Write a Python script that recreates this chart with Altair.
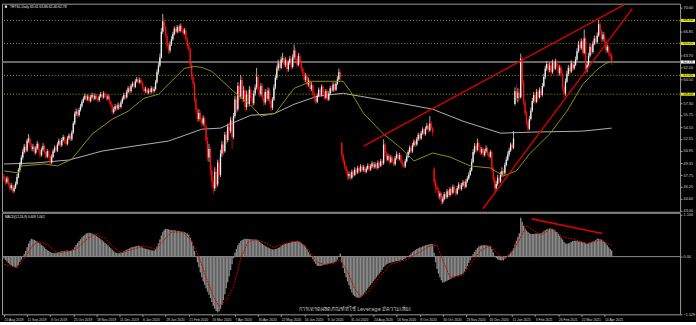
import altair as alt
import pandas as pd
import numpy as np

# ---------------- data ----------------
date_labels = ["20 Aug 2019", "11 Sep 2019", "3 Oct 2019", "25 Oct 2019", "18 Nov 2019",
               "11 Dec 2019", "6 Jan 2020", "29 Jan 2020", "21 Feb 2020", "16 Mar 2020",
               "7 Apr 2020", "30 Apr 2020", "22 May 2020", "16 Jun 2020", "9 Jul 2020",
               "31 Jul 2020", "24 Aug 2020", "16 Sep 2020", "8 Oct 2020", "30 Oct 2020",
               "23 Nov 2020", "16 Dec 2020", "11 Jan 2021", "3 Feb 2021", "26 Feb 2021",
               "22 Mar 2021", "14 Apr 2021"]
date_label_step = 16

closes = [
    47.2, 46.8, 47.3, 46.5, 46.0, 46.4, 45.6, 46.1, 46.6,
    47.5, 48.4, 49.2, 50.1,
    50.8, 51.5, 51.0, 52.3, 52.6,
    51.8, 51.2, 51.5, 50.7, 51.3, 51.9, 51.0, 50.4, 51.1, 51.6, 50.8, 50.2, 50.9, 50.3,
    49.4,
    50.2, 50.9, 51.4, 51.0, 51.8, 52.3, 51.7, 52.4, 52.8, 52.2, 51.9, 52.6, 53.0, 52.5, 53.4,
    54.6, 55.9, 56.2, 55.7, 56.4, 56.9, 57.5,
    57.9, 58.3, 57.8, 58.2, 57.6, 58.1, 58.4, 57.9, 58.3, 58.0, 57.7, 58.2, 58.5, 58.1, 58.6, 58.3, 57.9, 58.2, 57.5, 57.0,
    56.1,
    56.5, 56.9, 56.6, 57.1, 56.8, 57.4,
    57.9, 58.4, 58.1, 58.8, 59.3, 58.9, 59.6, 59.9, 59.5, 60.2, 60.5, 60.1, 60.4, 60.0,
    59.4, 58.9, 59.2, 58.7, 59.0, 58.8, 59.3, 58.9, 59.2,
    60.1, 61.4, 62.3, 63.4,
    66.8, 68.2, 67.4,
    66.2, 64.9, 64.3, 65.1, 65.8,
    66.5, 67.2, 66.8, 67.4, 66.9, 67.6, 67.1, 66.6, 67.0,
    65.8, 64.9, 64.5,
    62.4, 60.8, 59.9,
    57.8, 56.4, 55.2, 56.0, 55.1, 54.6, 55.3, 54.2,
    52.3, 50.1, 51.2, 48.4, 46.9, 46.0,
    48.2, 46.5, 49.4, 47.8, 50.6,
    51.8, 50.9, 53.1, 52.4, 54.2, 53.6, 55.0, 52.8, 55.6,
    57.8, 56.5, 59.6, 58.2, 60.4, 57.9, 59.0, 56.8, 58.5, 57.2, 59.1, 58.0,
    57.3, 58.6, 59.4, 60.8, 59.2,
    58.5, 59.6, 58.0, 57.4, 58.8, 57.9, 59.0, 57.6, 56.7, 57.8,
    59.4, 60.7, 61.9, 62.6, 62.0, 63.1, 63.3,
    62.4, 63.0, 61.8, 62.7, 63.2, 62.1, 63.4,
    64.3, 63.2, 62.4, 63.6, 62.8, 61.9,
    61.2, 60.4, 60.9, 59.8, 60.3, 59.2, 59.7, 58.6,
    57.9, 57.5, 58.3,
    59.1, 58.4, 59.5, 58.7, 58.0, 58.9, 57.8, 58.6, 59.3,
    59.0, 59.8, 59.1, 59.9, 60.5,
    61.4, 60.8,
    50.4, 49.6, 48.9,
    48.3, 47.6, 47.9, 47.4,
    48.2, 47.8, 48.5, 48.1, 48.7, 48.3, 48.9, 48.4, 48.8, 48.2, 48.6, 49.0, 48.5, 48.9, 49.3, 48.8, 49.2, 48.7, 49.4, 49.0, 49.6, 49.3,
    51.8, 50.6,
    49.8, 50.3, 49.5, 50.1, 49.6, 49.2, 50.0, 50.5, 49.9, 50.4, 49.5, 49.1, 48.9, 49.6, 50.2,
    50.8, 51.4, 50.9, 51.7, 52.2, 51.8, 52.5, 53.1, 52.6, 53.3, 53.8, 53.2, 53.9, 54.3, 53.7, 54.6, 54.0, 53.4,
    46.8, 46.2,
    45.8, 44.9, 45.3, 44.2, 44.6,
    45.2, 44.8, 45.6, 45.1, 45.9, 45.4, 46.2, 45.7, 45.3, 46.0, 46.5, 45.9, 46.4, 46.8, 46.2, 46.9, 47.3, 47.8, 48.4,
    49.5, 50.8, 51.6, 51.1, 52.0, 51.4,
    50.7, 51.2, 50.4, 50.9, 51.3, 50.6, 50.2, 50.8,
    48.6, 47.2, 46.0,
    46.6, 47.4, 46.9, 47.8, 48.3, 48.0,
    49.1, 49.8, 50.5, 51.0, 51.8, 51.4, 52.6,
    58.9, 58.0, 58.7, 58.1, 63.2,
    60.1, 57.4, 56.0, 54.8, 53.9, 55.2, 56.3,
    57.6, 58.4, 57.5, 58.8, 58.1, 59.0, 58.4,
    59.6, 60.8, 61.9, 62.5, 61.7,
    62.3, 61.4, 62.7, 61.9, 62.8, 62.2, 61.3, 62.0, 61.2,
    59.4, 58.6, 60.2,
    61.2, 62.0, 61.5, 62.6, 61.9, 62.4, 63.1,
    64.2, 65.1, 64.6, 65.5,
    64.0, 65.9,
    61.8, 62.4,
    63.6, 64.8, 64.1, 65.2,
    65.9, 65.4, 66.3,
    67.8, 66.9,
    65.8, 66.4, 65.5,
    64.3, 64.8,
    63.9, 63.61, 62.78,
]

highs = [
    47.9, 47.5, 47.6, 47.5, 46.8, 46.7, 46.5, 46.4, 46.9,
    47.9, 48.7, 49.5, 50.4,
    51.2, 51.9, 51.8, 52.6, 53.2,
    52.9, 52.0, 51.9, 51.7, 51.6, 52.3, 52.1, 51.2, 51.4, 52.0, 51.8, 51.0, 51.2, 51.1,
    50.5,
    50.5, 51.2, 51.7, 51.6, 52.1, 52.6, 52.5, 52.7, 53.1, 53.0, 52.5, 52.9, 53.3, 53.2, 53.7,
    54.9, 56.2, 56.6, 56.5, 56.7, 57.2, 57.8,
    58.2, 58.6, 58.5, 58.5, 58.4, 58.4, 58.7, 58.6, 58.6, 58.5, 58.2, 58.5, 58.8, 58.7, 58.9, 58.8, 58.5, 58.5, 58.4, 57.7,
    57.2,
    56.8, 57.2, 57.1, 57.4, 57.3, 57.7,
    58.2, 58.7, 58.7, 59.1, 59.6, 59.5, 59.9, 60.2, 60.1, 60.5, 60.8, 60.7, 60.7, 60.6,
    60.2, 59.6, 59.5, 59.4, 59.3, 59.2, 59.6, 59.5, 59.5,
    60.4, 61.8, 62.7, 63.9,
    67.3, 69.2, 68.6,
    67.6, 66.5, 65.2, 65.5, 66.2,
    66.8, 67.5, 67.5, 67.7, 67.6, 67.9, 67.8, 67.3, 67.3,
    67.2, 66.1, 65.3,
    64.7, 62.7, 61.2,
    60.1, 58.1, 56.7, 56.5, 56.3, 55.5, 55.7, 55.5,
    54.4, 52.8, 51.9, 51.5, 49.0, 47.6,
    48.8, 48.6, 49.8, 49.9, 51.1,
    52.3, 52.2, 53.5, 53.6, 54.6, 54.8, 55.5, 55.4, 56.0,
    58.3, 58.2, 60.1, 60.0, 61.0, 60.8, 59.6, 59.3, 59.0, 58.9, 59.6, 59.5,
    58.3, 59.0, 59.8, 62.0, 61.1,
    59.5, 60.0, 59.9, 58.4, 59.2, 59.1, 59.4, 59.3, 57.9, 58.1,
    59.8, 61.1, 62.3, 63.1, 62.9, 63.5, 64.0,
    63.6, 63.4, 63.2, 63.0, 63.6, 63.4, 63.8,
    65.1, 64.6, 63.5, 64.0, 63.9, 63.0,
    62.2, 61.5, 61.3, 61.1, 60.7, 60.5, 60.1, 59.9,
    58.8, 58.1, 58.6,
    59.4, 59.3, 59.8, 59.7, 58.9, 59.2, 59.1, 58.9, 59.6,
    59.6, 60.1, 60.0, 60.2, 60.9,
    61.9, 61.6,
    52.2, 50.7, 49.9,
    49.1, 48.5, 48.2, 48.1,
    48.5, 48.4, 48.8, 48.7, 49.0, 48.9, 49.2, 49.1, 49.1, 49.0, 48.9, 49.3, 49.2, 49.2, 49.6, 49.5, 49.5, 49.4, 49.7, 49.6, 49.9, 49.9,
    52.5, 52.0,
    50.9, 50.6, 50.5, 50.4, 50.3, 49.8, 50.3, 50.9, 50.7, 50.7, 50.6, 49.8, 49.4, 49.9, 50.5,
    51.1, 51.7, 51.6, 52.0, 52.5, 52.4, 52.8, 53.4, 53.3, 53.6, 54.1, 54.0, 54.2, 54.7, 54.5, 55.6, 54.9, 54.2,
    48.8, 47.2,
    46.5, 46.1, 45.6, 45.5, 44.9,
    45.5, 45.4, 45.9, 45.8, 46.2, 46.1, 46.5, 46.4, 45.9, 46.3, 46.8, 46.7, 46.7, 47.1, 47.0, 47.2, 47.6, 48.1, 48.7,
    49.9, 51.2, 52.0, 51.9, 52.6, 52.3,
    51.7, 51.5, 51.4, 51.2, 51.7, 51.5, 50.9, 51.1,
    51.0, 48.9, 47.5,
    47.0, 47.8, 47.7, 48.2, 48.8, 48.6,
    49.4, 50.2, 50.9, 51.4, 52.1, 52.0, 53.6,
    59.4, 59.8, 59.3, 59.2, 63.9,
    63.5, 60.4, 57.8, 56.3, 55.1, 55.6, 56.7,
    58.0, 58.8, 58.7, 59.2, 59.1, 59.4, 59.3,
    60.0, 61.2, 62.3, 62.9, 62.8,
    62.7, 62.6, 63.1, 63.0, 63.2, 63.1, 62.5, 62.4, 62.3,
    61.4, 59.7, 60.6,
    61.6, 62.4, 62.3, 63.0, 62.9, 62.8, 63.5,
    64.6, 65.6, 65.9, 65.9,
    65.7, 67.1,
    66.2, 62.9,
    64.0, 65.2, 65.1, 65.6,
    66.3, 66.2, 66.7,
    68.4, 68.1,
    67.1, 66.8, 66.7,
    65.7, 65.1,
    65.0, 64.1, 63.86,
]

lows = [
    46.9, 46.4, 46.6, 46.2, 45.6, 45.7, 45.3, 45.4, 45.9,
    46.4, 47.3, 48.1, 49.0,
    49.8, 50.6, 50.7, 50.8, 52.0,
    51.5, 50.9, 50.9, 50.4, 50.5, 51.1, 50.7, 50.0, 50.2, 50.9, 50.5, 49.9, 50.0, 50.0,
    49.0,
    49.2, 50.0, 50.7, 50.7, 50.8, 51.6, 51.4, 51.5, 52.2, 51.9, 51.6, 51.7, 52.4, 52.2, 52.3,
    53.2, 54.4, 55.6, 55.3, 55.5, 56.2, 56.7,
    57.3, 57.7, 57.5, 57.6, 57.3, 57.4, 57.9, 57.6, 57.7, 57.7, 57.4, 57.5, 58.0, 57.8, 57.9, 58.0, 57.6, 57.7, 57.2, 56.7,
    55.8,
    55.9, 56.3, 56.3, 56.4, 56.5, 56.6,
    57.2, 57.7, 57.8, 57.9, 58.6, 58.6, 58.7, 59.4, 59.2, 59.3, 60.0, 59.8, 59.9, 59.7,
    59.1, 58.6, 58.7, 58.5, 58.5, 58.5, 58.6, 58.6, 58.7,
    59.0, 59.9, 61.1, 62.1,
    63.2, 66.5, 67.0,
    65.9, 64.5, 63.8, 64.0, 64.9,
    65.6, 66.3, 66.5, 66.6, 66.6, 66.7, 66.8, 66.3, 66.4,
    65.5, 64.5, 64.2,
    62.1, 60.4, 59.3,
    57.4, 56.0, 54.8, 54.9, 54.7, 54.1, 54.3, 53.8,
    51.8, 49.6, 49.5, 47.8, 46.1, 45.2,
    45.6, 45.9, 46.2, 47.3, 47.5,
    50.2, 50.4, 50.7, 51.9, 52.1, 53.1, 53.3, 51.2, 52.5,
    55.3, 56.0, 56.2, 57.7, 57.9, 57.4, 57.5, 56.2, 56.4, 56.7, 56.9, 57.6,
    56.8, 57.0, 58.3, 59.1, 58.8,
    58.1, 58.2, 57.6, 56.9, 57.1, 57.5, 57.6, 57.2, 56.2, 56.4,
    57.6, 59.1, 60.4, 61.6, 61.6, 61.8, 62.8,
    62.0, 62.1, 61.4, 61.5, 62.4, 61.7, 61.9,
    63.1, 62.9, 62.0, 62.2, 62.4, 61.5,
    60.9, 60.0, 60.1, 59.4, 59.5, 58.8, 58.9, 58.2,
    57.5, 57.2, 57.3,
    58.1, 58.1, 58.2, 58.4, 57.7, 57.8, 57.6, 57.6, 58.4,
    58.7, 58.8, 58.8, 58.9, 59.7,
    60.3, 60.4,
    50.1, 49.2, 48.5,
    47.9, 47.1, 47.2, 47.0,
    47.2, 47.5, 47.6, 47.8, 47.9, 48.0, 48.1, 48.1, 48.2, 47.9, 48.0, 48.4, 48.2, 48.3, 48.7, 48.5, 48.6, 48.4, 48.5, 48.7, 48.8, 49.0,
    49.1, 50.2,
    49.5, 49.6, 49.2, 49.3, 49.3, 48.9, 49.0, 49.8, 49.6, 49.7, 49.2, 48.8, 48.6, 48.7, 49.4,
    50.0, 50.6, 50.6, 50.7, 51.5, 51.5, 51.6, 52.3, 52.3, 52.4, 53.1, 52.9, 53.0, 53.7, 53.4, 53.5, 53.7, 52.9,
    46.4, 45.4,
    45.4, 44.6, 44.5, 43.7, 43.9,
    44.4, 44.5, 44.6, 44.8, 44.9, 45.1, 45.2, 45.4, 45.0, 45.1, 45.8, 45.6, 45.7, 46.2, 45.9, 46.0, 46.7, 47.1, 47.6,
    48.2, 49.3, 50.5, 50.7, 50.9, 51.0,
    50.4, 50.5, 50.1, 50.2, 50.7, 50.3, 49.8, 50.0,
    48.2, 46.7, 45.3,
    45.6, 46.3, 46.5, 46.7, 47.5, 47.6,
    47.8, 48.9, 49.6, 50.2, 50.8, 51.1, 51.2,
    57.0, 57.6, 57.4, 57.7, 57.9,
    59.7, 57.0, 55.6, 54.4, 53.5, 53.7, 55.0,
    56.1, 57.3, 57.2, 57.3, 57.8, 57.9, 58.0,
    58.2, 59.4, 60.5, 61.6, 61.3,
    61.4, 61.0, 61.2, 61.6, 61.7, 61.9, 60.9, 61.0, 60.8,
    59.0, 58.0, 58.3,
    60.0, 60.9, 61.1, 61.3, 61.6, 61.7, 62.2,
    62.9, 64.0, 64.2, 64.4,
    63.6, 63.8,
    61.2, 61.4,
    62.2, 63.4, 63.7, 63.9,
    65.0, 65.0, 65.2,
    66.1, 66.5,
    65.4, 65.5, 65.1,
    63.9, 64.0,
    63.5, 63.2, 62.40,
]

first_open = 47.6
gap_opens = {234: 52.0, 298: 48.6, 354: 57.2}   # bars that open away from the prior close

# moving averages (bar index, price)
ma_fast_i = [0, 10, 12, 28, 37, 47, 61, 75, 86, 97, 107, 125, 132, 137, 144, 159, 171, 178, 188,
             201, 213, 228, 235, 240, 249, 263, 275, 284, 297, 309, 323, 337, 346, 355, 364, 378,
             390, 401, 411, 417, 421]
ma_fast_p = [48.30, 48.03, 48.96, 49.22, 48.96, 49.88, 53.19, 55.18, 56.24, 57.96, 58.49, 61.93,
             62.19, 62.06, 61.53, 58.88, 57.00, 55.57, 55.97, 59.28, 60.21, 60.21, 60.21, 58.88,
             55.97, 53.19, 51.34, 49.62, 50.68, 50.15, 48.96, 48.69, 47.63, 48.30, 50.54, 53.19,
             56.24, 59.81, 61.79, 62.59, 62.85]
ma_slow_i = [0, 21, 45, 68, 90, 114, 137, 150, 171, 187, 201, 217, 235, 247, 275, 297, 318, 344,
             366, 401, 421]
ma_slow_p = [49.22, 49.35, 49.75, 50.94, 51.60, 52.27, 53.85, 53.99, 55.70, 55.90, 57.16, 58.22,
             58.62, 58.22, 57.29, 56.50, 54.91, 53.32, 53.46, 53.59, 53.99]

# trend lines (bar index, price)
trend_id = ["a", "a", "b", "b"]
trend_i = [249.1, 429.8, 331.8, 435.3]
trend_p = [51.60, 70.40, 43.27, 69.87]

level_prices = [68.30, 65.25, 61.00, 58.50]
bid_price = 62.78
price_ticks = [43.00, 44.60, 46.20, 47.75, 49.35, 50.95, 52.55, 54.10, 55.75, 57.30,
               60.50, 62.10, 63.70, 66.85, 70.00]

macd_hist = [
    -0.05, -0.09, -0.13, -0.17, -0.20, -0.23, -0.26, -0.28, -0.29, -0.29,
    -0.22, -0.14, -0.08, -0.01, 0.06, 0.15, 0.25, 0.35, 0.42, 0.47,
    0.46, 0.44, 0.42, 0.40, 0.37, 0.35, 0.31, 0.28, 0.24, 0.20,
    0.17, 0.15, 0.12, 0.10, 0.09, 0.09, 0.10, 0.11, 0.12, 0.13,
    0.14, 0.15, 0.15, 0.16, 0.16, 0.15, 0.15, 0.16, 0.19, 0.25,
    0.31, 0.36, 0.41, 0.46, 0.51, 0.55, 0.58, 0.61, 0.62, 0.63,
    0.62, 0.61, 0.60, 0.58, 0.55, 0.52, 0.49, 0.46, 0.43, 0.40,
    0.36, 0.33, 0.30, 0.26, 0.22, 0.18, 0.14, 0.11, 0.10, 0.09,
    0.09, 0.10, 0.12, 0.14, 0.16, 0.18, 0.20, 0.22, 0.24, 0.25,
    0.26, 0.27, 0.28, 0.29, 0.28, 0.26, 0.24, 0.22, 0.21, 0.20,
    0.19, 0.18, 0.17, 0.16, 0.16, 0.20, 0.27, 0.35, 0.45, 0.56,
    0.66, 0.71, 0.73, 0.73, 0.72, 0.71, 0.70, 0.70, 0.70, 0.69,
    0.68, 0.68, 0.67, 0.66, 0.66, 0.65, 0.63, 0.61, 0.58, 0.50,
    0.40, 0.28, 0.15, 0.00, -0.15, -0.28, -0.42, -0.55, -0.66, -0.75,
    -0.84, -0.93, -1.01, -1.10, -1.20, -1.30, -1.38, -1.44, -1.48, -1.45,
    -1.38, -1.28, -1.15, -1.00, -0.84, -0.68, -0.52, -0.36, -0.20, -0.04,
    0.10, 0.20, 0.30, 0.36, 0.41, 0.44, 0.46, 0.47, 0.47, 0.47,
    0.46, 0.46, 0.45, 0.45, 0.45, 0.45, 0.43, 0.40, 0.37, 0.34,
    0.31, 0.28, 0.26, 0.24, 0.22, 0.20, 0.19, 0.19, 0.20, 0.21,
    0.23, 0.25, 0.28, 0.31, 0.33, 0.34, 0.35, 0.36, 0.37, 0.38,
    0.39, 0.40, 0.41, 0.42, 0.41, 0.39, 0.36, 0.33, 0.30, 0.25,
    0.19, 0.12, 0.06, 0.00, -0.07, -0.13, -0.19, -0.24, -0.25, -0.25,
    -0.24, -0.23, -0.22, -0.21, -0.20, -0.19, -0.18, -0.17, -0.16, -0.15,
    -0.13, -0.08, 0.01, 0.08, -0.15, -0.30, -0.44, -0.55, -0.66, -0.76,
    -0.86, -0.95, -1.01, -1.05, -1.08, -1.09, -1.09, -1.08, -1.05, -1.00,
    -0.95, -0.90, -0.85, -0.80, -0.75, -0.70, -0.65, -0.60, -0.55, -0.50,
    -0.45, -0.40, -0.35, -0.28, -0.24, -0.21, -0.19, -0.17, -0.16, -0.15,
    -0.14, -0.13, -0.12, -0.12, -0.11, -0.10, -0.09, -0.07, -0.05, -0.02,
    0.00, 0.04, 0.08, 0.12, 0.15, 0.18, 0.20, 0.22, 0.24, 0.25,
    0.27, 0.28, 0.30, 0.31, 0.32, 0.33, 0.34, 0.33, 0.10, -0.15,
    -0.33, -0.45, -0.55, -0.63, -0.69, -0.68, -0.66, -0.64, -0.62, -0.60,
    -0.58, -0.56, -0.54, -0.52, -0.51, -0.50, -0.48, -0.47, -0.45, -0.40,
    -0.33, -0.25, -0.17, -0.10, -0.02, 0.06, 0.12, 0.18, 0.23, 0.27,
    0.29, 0.30, 0.30, 0.30, 0.30, 0.29, 0.29, 0.27, 0.20, 0.11,
    0.02, -0.04, -0.07, -0.09, -0.10, -0.10, -0.10, -0.06, -0.02, 0.02,
    0.06, 0.10, 0.15, 0.22, 0.32, 0.42, 0.52, 0.62, 1.03, 0.92,
    0.82, 0.74, 0.69, 0.65, 0.62, 0.60, 0.60, 0.60, 0.61, 0.61,
    0.61, 0.61, 0.62, 0.64, 0.67, 0.70, 0.72, 0.74, 0.74, 0.73,
    0.73, 0.72, 0.69, 0.65, 0.60, 0.55, 0.50, 0.45, 0.39, 0.35,
    0.34, 0.35, 0.37, 0.39, 0.41, 0.42, 0.42, 0.41, 0.40, 0.40,
    0.40, 0.39, 0.38, 0.36, 0.34, 0.35, 0.37, 0.38, 0.40, 0.42,
    0.44, 0.47, 0.47, 0.46, 0.45, 0.42, 0.39, 0.35, 0.30, 0.25,
    0.20, 0.16,
]

signal_i = [0, 6, 10, 15, 20, 24, 30, 37, 44, 50, 57, 63, 70, 76, 81, 88, 97, 105, 110, 116, 124,
            130, 135, 140, 145, 149, 154, 159, 164, 169, 174, 180, 187, 193, 199, 205, 210, 217,
            222, 228, 233, 238, 243, 247, 252, 260, 268, 279, 288, 295, 300, 304, 309, 314, 318,
            324, 330, 337, 343, 348, 353, 357, 362, 369, 373, 379, 387, 394, 403, 413, 419, 421]
signal_v = [-0.20, -0.26, -0.26, 0.00, 0.30, 0.40, 0.32, 0.10, 0.14, 0.20, 0.45, 0.60, 0.48, 0.25,
            0.10, 0.18, 0.28, 0.20, 0.40, 0.65, 0.65, 0.42, 0.00, -0.55, -1.05, -1.32, -1.15, -0.80,
            -0.05, 0.38, 0.45, 0.38, 0.24, 0.32, 0.40, 0.40, 0.22, -0.15, -0.21, -0.18, -0.08,
            -0.40, -0.85, -1.05, -0.95, -0.55, -0.20, -0.08, 0.12, 0.28, 0.30, -0.10, -0.55,
            -0.53, -0.48, -0.15, 0.16, 0.29, 0.03, -0.04, 0.20, 0.43, 0.82, 0.64, 0.58, 0.76,
            0.52, 0.47, 0.35, 0.44, 0.34, 0.30]

macd_trend_i = [365.6, 414.6]
macd_trend_v = [1.00, 0.61]
macd_ticks = [1.106, 0.0, -1.529]

header_text = "TRTSL,Daily  63.61 63.86 62.40 62.78"
macd_text = "MACD(12,26,9) 0.409 1.062"
warning_text = "การเทรดผลิตภัณฑ์ที่ใช้ Leverage มีความเสี่ยง"

# ---------------- tables ----------------
n = min(len(closes), len(highs), len(lows))
opens = [first_open] + closes[:n - 1]
for k, v in gap_opens.items():
    if k < n:
        opens[k] = v
candles = pd.DataFrame({"i": list(range(n)), "o": opens[:n], "h": highs[:n],
                        "l": lows[:n], "c": closes[:n]})
candles["dir"] = np.where(candles["c"] >= candles["o"], "up", "down")

macd_df = pd.DataFrame({"i": list(range(len(macd_hist))), "v": macd_hist})
sig_df = pd.DataFrame({"i": signal_i, "v": signal_v})
fast_df = pd.DataFrame({"i": ma_fast_i, "p": ma_fast_p})
slow_df = pd.DataFrame({"i": ma_slow_i, "p": ma_slow_p})
trend_df = pd.DataFrame({"id": trend_id, "i": trend_i, "p": trend_p})
lvl_df = pd.DataFrame({"p": level_prices})
bid_df = pd.DataFrame({"p": [bid_price]})
mtrend_df = pd.DataFrame({"i": macd_trend_i, "v": macd_trend_v})

# ---------------- scales ----------------
W = 681
FONT = "Liberation Sans"
LBL = "#d8d8d8"
xs = alt.Scale(domain=[-1.4, 468.4], nice=False, zero=False)
ys = alt.Scale(domain=[42.87, 70.53], nice=False, zero=False)
ms = alt.Scale(domain=[-1.53, 1.161], nice=False, zero=False)
col = alt.Scale(domain=["up", "down"], range=["#f2f2f2", "#ff1010"])

price_axis = alt.Axis(orient="right", values=price_ticks, format=".2f", labelFontSize=3.8,
                      labelColor=LBL, labelFont=FONT, tickColor="#9a9a9a", tickSize=2,
                      labelPadding=1, domain=False, grid=False, title=None, labelOverlap=False)
X = alt.X("i:Q", scale=xs, axis=None)

def PY(field):
    return alt.Y(field, type="quantitative", scale=ys, axis=price_axis)

levels = alt.Chart(lvl_df).mark_rule(color="#9c9c00", strokeDash=[1, 2], strokeWidth=1).encode(y=PY("p"))
bid = alt.Chart(bid_df).mark_rule(color="#8a8a8a", strokeWidth=1.5).encode(y=PY("p"))
slow = alt.Chart(slow_df).mark_line(color="#b0b0b0", strokeWidth=1).encode(x=X, y=PY("p"))
wicks = alt.Chart(candles).mark_rule(strokeWidth=0.7).encode(
    x=X, y=PY("l"), y2="h:Q", color=alt.Color("dir:N", scale=col, legend=None))
bodies = alt.Chart(candles).mark_rule(strokeWidth=1.3, strokeCap="butt").encode(
    x=X, y=PY("o"), y2="c:Q", color=alt.Color("dir:N", scale=col, legend=None))
fast = alt.Chart(fast_df).mark_line(color="#8e8e10", strokeWidth=1).encode(x=X, y=PY("p"))
trends = alt.Chart(trend_df).mark_line(color="#d80000", strokeWidth=1.4, clip=True).encode(
    x=X, y=PY("p"), detail="id:N")

box_shape = "M-1,-0.22L1,-0.22L1,0.22L-1,0.22Z"
lvl_box = alt.Chart(lvl_df).mark_point(shape=box_shape, filled=True, size=196, opacity=1,
                                       color="#ecec00").encode(x=alt.value(689), y=PY("p"))
lvl_txt = alt.Chart(lvl_df).mark_text(fontSize=3.8, font=FONT, color="#000000").encode(
    x=alt.value(689), y=PY("p"), text=alt.Text("p:Q", format=".2f"))
bid_box = alt.Chart(bid_df).mark_point(shape=box_shape, filled=True, size=196, opacity=1,
                                       color="#ffffff").encode(x=alt.value(689), y=PY("p"))
bid_txt = alt.Chart(bid_df).mark_text(fontSize=3.8, font=FONT, color="#000000").encode(
    x=alt.value(689), y=PY("p"), text=alt.Text("p:Q", format=".2f"))

head = alt.Chart(pd.DataFrame({"t": [header_text]})).mark_text(
    align="left", baseline="middle", fontSize=3.4, font=FONT, color="#e8e8e8").encode(
    x=alt.value(8), y=alt.value(3), text="t:N")
head_icon = alt.Chart(pd.DataFrame({"t": [header_text]})).mark_point(
    shape="square", filled=True, size=5, color="#e8e8e8", opacity=1).encode(
    x=alt.value(4), y=alt.value(3))

price = alt.layer(levels, bid, slow, wicks, bodies, fast, trends, lvl_box, lvl_txt, bid_box,
                  bid_txt, head, head_icon).properties(width=W, height=209)

# ---------------- MACD panel ----------------
date_expr = "[" + ",".join("'" + d + "'" for d in date_labels) + "]"
x_axis = alt.Axis(values=[k * date_label_step for k in range(len(date_labels))],
                  labelExpr=date_expr + "[round(datum.value / %d)]" % date_label_step,
                  labelAlign="left", labelFontSize=3.4, labelFont=FONT, labelColor=LBL,
                  tickColor="#9a9a9a", tickSize=2, labelPadding=1, domain=False, grid=False,
                  title=None, labelOverlap=False)
macd_axis = alt.Axis(orient="right", values=macd_ticks,
                     labelExpr="datum.value == 0 ? '0.00' : format(datum.value, '.3f')",
                     labelFontSize=3.8, labelFont=FONT, labelColor=LBL, tickColor="#9a9a9a",
                     tickSize=2, labelPadding=1, domain=False, grid=False, title=None)
XM = alt.X("i:Q", scale=xs, axis=x_axis)

def MY(field):
    return alt.Y(field, type="quantitative", scale=ms, axis=macd_axis)

hist = alt.Chart(macd_df).transform_calculate(z="0").mark_rule(
    color="#8a8a8a", strokeWidth=1.35, strokeCap="butt").encode(x=XM, y=MY("v"), y2="z:Q")
zero = alt.Chart(pd.DataFrame({"v": [0.0]})).mark_rule(color="#8a8a8a", strokeWidth=1).encode(y=MY("v"))
sig = alt.Chart(sig_df).mark_line(color="#c80000", strokeWidth=1, strokeDash=[2, 1]).encode(
    x=XM, y=MY("v"))
mtrend = alt.Chart(mtrend_df).mark_line(color="#d80000", strokeWidth=1.6).encode(x=XM, y=MY("v"))
mlabel = alt.Chart(pd.DataFrame({"t": [macd_text]})).mark_text(
    align="left", baseline="middle", fontSize=3.2, font=FONT, color="#e8e8e8").encode(
    x=alt.value(3), y=alt.value(4), text="t:N")
warn = alt.Chart(pd.DataFrame({"t": [warning_text]})).mark_text(
    align="left", baseline="middle", fontSize=5.6, font="Noto Sans", color="#bdbdbd").encode(
    x=alt.value(298), y=alt.value(97), text="t:N")

macd = alt.layer(hist, zero, sig, mtrend, mlabel, warn).properties(width=W, height=102)

chart = alt.vconcat(price, macd, spacing=1, bounds="flush").properties(
    background="#000000",
    padding={"left": 0, "right": 0, "top": 2, "bottom": 0},
).configure_view(stroke="#9a9a9a", strokeWidth=1).configure_concat(spacing=1)

chart.save("out.html", embed_options={"renderer": "svg", "actions": False})
